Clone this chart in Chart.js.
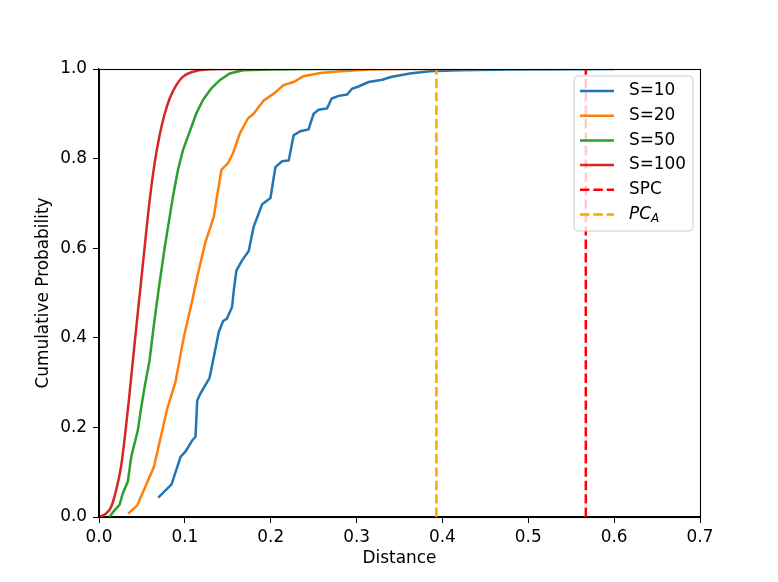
<!DOCTYPE html>
<html>
<head>
<meta charset="utf-8">
<script src="https://cdn.jsdelivr.net/npm/chart.js@4/dist/chart.umd.min.js"></script>
<style>
  html, body { margin: 0; padding: 0; background: #fff; }
  #wrap { width: 778px; height: 582px; }
</style>
</head>
<body>
<div id="wrap"><canvas id="cdf" width="778" height="582"></canvas></div>
<script>
const s10X = [0.069, 0.0845, 0.095, 0.101, 0.1086, 0.1124, 0.1144, 0.118, 0.1237, 0.1287, 0.1337, 0.1395, 0.1446, 0.149, 0.155, 0.157, 0.16, 0.1667, 0.1744, 0.18, 0.19, 0.1997, 0.2055, 0.2133, 0.221, 0.2267, 0.2345, 0.244, 0.25, 0.256, 0.2656, 0.271, 0.279, 0.289, 0.2946, 0.3023, 0.314, 0.33, 0.34, 0.362, 0.385, 0.42, 0.48, 0.55, 0.6];
const s10Y = [0.043, 0.073, 0.134, 0.147, 0.171, 0.179, 0.26, 0.275, 0.294, 0.31, 0.357, 0.413, 0.4375, 0.443, 0.469, 0.506, 0.55, 0.573, 0.594, 0.647, 0.698, 0.712, 0.781, 0.794, 0.796, 0.852, 0.861, 0.865, 0.90, 0.909, 0.912, 0.934, 0.94, 0.943, 0.956, 0.961, 0.971, 0.976, 0.982, 0.990, 0.995, 0.997, 0.999, 0.9995, 1.0];

const s20X = [0.034, 0.0446, 0.064, 0.0795, 0.089, 0.0988, 0.1086, 0.1144, 0.124, 0.1337, 0.1368, 0.1426, 0.1503, 0.1561, 0.164, 0.1736, 0.18, 0.192, 0.2035, 0.215, 0.2267, 0.238, 0.258, 0.281, 0.316, 0.36, 0.45];
const s20Y = [0.0076, 0.026, 0.112, 0.242, 0.301, 0.402, 0.483, 0.536, 0.614, 0.67, 0.708, 0.775, 0.79, 0.812, 0.856, 0.89, 0.9, 0.93, 0.945, 0.964, 0.971, 0.984, 0.991, 0.995, 0.9987, 1.0, 1.0];

const s50X = [0.0122, 0.018, 0.0239, 0.0278, 0.0336, 0.0376, 0.0415, 0.0453, 0.0492, 0.0531, 0.0589, 0.064, 0.0694, 0.0764, 0.0823, 0.0861, 0.092, 0.0978, 0.1056, 0.1134, 0.1211, 0.1309, 0.1406, 0.1523, 0.1678, 0.2, 0.25, 0.3];
const s50Y = [0, 0.015, 0.027, 0.053, 0.079, 0.135, 0.165, 0.194, 0.245, 0.29, 0.35, 0.43, 0.507, 0.6, 0.67, 0.715, 0.775, 0.819, 0.86, 0.901, 0.931, 0.957, 0.975, 0.99, 0.997, 0.999, 1.0, 1.0];

const s100X = [0.0006, 0.0084, 0.0142, 0.020, 0.0259, 0.031, 0.0353, 0.0395, 0.0438, 0.048, 0.0525, 0.0589, 0.0648, 0.0706, 0.0764, 0.0823, 0.09, 0.0978, 0.1095, 0.125, 0.15, 0.2];
const s100Y = [0, 0.008, 0.023, 0.06, 0.115, 0.194, 0.27, 0.35, 0.43, 0.507, 0.59, 0.705, 0.79, 0.852, 0.899, 0.934, 0.964, 0.983, 0.994, 0.999, 1.0, 1.0];

// vertical reference distances
const spcX = 0.567;
const pcaX = 0.393;

const seriesLabels = ['S=10', 'S=20', 'S=50', 'S=100', 'SPC', 'PC_A'];
const seriesColors = ['#1f77b4', '#ff7f0e', '#2ca02c', '#d62728', '#ff0000', '#ffa500'];
const xTicks = [0, 0.1, 0.2, 0.3, 0.4, 0.5, 0.6, 0.7];
const yTicks = [0, 0.2, 0.4, 0.6, 0.8, 1.0];

function pts(xs, ys) {
    return xs.map(function (x, i) { return { x: x, y: ys[i] }; });
}

const FONT = 'DejaVu Sans';
const FS = 16.9;
const LW = 2.5;
const DASH = [9.4, 4];

const curves = [pts(s10X, s10Y), pts(s20X, s20Y), pts(s50X, s50Y), pts(s100X, s100Y),
                pts([spcX, spcX], [0, 1]), pts([pcaX, pcaX], [0, 1])];

const datasets = curves.map(function (d, i) {
    return {
        label: seriesLabels[i],
        data: d,
        showLine: true,
        borderColor: seriesColors[i],
        backgroundColor: seriesColors[i],
        borderWidth: LW,
        borderDash: i >= 4 ? DASH : [],
        pointRadius: 0,
        fill: false,
        tension: 0,
        cubicInterpolationMode: i === 3 ? 'monotone' : 'default',
        order: 10 - i,
    };
});

// top/right spines
const framePlugin = {
    id: 'frame',
    afterDatasetsDraw(chart) {
        const a = chart.chartArea, ctx = chart.ctx;
        ctx.save();
        ctx.strokeStyle = '#000';
        ctx.lineWidth = 1.1;
        ctx.strokeRect(a.left + 0.5, a.top + 0.5, a.right - a.left, a.bottom - a.top);
        ctx.restore();
    }
};

// matplotlib-style boxed legend inside the axes
const boxLegend = {
    id: 'boxLegend',
    afterDraw(chart) {
        const a = chart.chartArea, ctx = chart.ctx;
        const w = 119, h = 155;
        const x0 = a.right - 7 - w, y0 = a.top + 7;
        const r = 4;
        ctx.save();
        ctx.beginPath();
        ctx.moveTo(x0 + r, y0);
        ctx.lineTo(x0 + w - r, y0);
        ctx.arcTo(x0 + w, y0, x0 + w, y0 + r, r);
        ctx.lineTo(x0 + w, y0 + h - r);
        ctx.arcTo(x0 + w, y0 + h, x0 + w - r, y0 + h, r);
        ctx.lineTo(x0 + r, y0 + h);
        ctx.arcTo(x0, y0 + h, x0, y0 + h - r, r);
        ctx.lineTo(x0, y0 + r);
        ctx.arcTo(x0, y0, x0 + r, y0, r);
        ctx.closePath();
        ctx.fillStyle = 'rgba(255,255,255,0.8)';
        ctx.fill();
        ctx.strokeStyle = '#cccccc';
        ctx.lineWidth = 1;
        ctx.stroke();

        ctx.textBaseline = 'middle';
        ctx.textAlign = 'left';
        seriesLabels.forEach(function (lab, i) {
            const y = y0 + 15 + i * 24.7;
            ctx.beginPath();
            ctx.setLineDash(i >= 4 ? DASH : []);
            ctx.strokeStyle = seriesColors[i];
            ctx.lineWidth = LW;
            ctx.moveTo(x0 + 6, y);
            ctx.lineTo(x0 + 40, y);
            ctx.stroke();
            ctx.setLineDash([]);
            ctx.fillStyle = '#000';
            if (lab === 'PC_A') {
                ctx.font = 'italic ' + FS + 'px "' + FONT + '"';
                ctx.fillText('PC', x0 + 55, y);
                const pw = ctx.measureText('PC').width;
                ctx.font = 'italic 12px "' + FONT + '"';
                ctx.fillText('A', x0 + 55 + pw, y + 4);
            } else {
                ctx.font = FS + 'px "' + FONT + '"';
                ctx.fillText(lab, x0 + 55, y);
            }
        });
        ctx.restore();
    }
};

const tickFont = { family: FONT, size: FS };

new Chart(document.getElementById('cdf').getContext('2d'), {
    type: 'scatter',
    data: { datasets: datasets },
    plugins: [framePlugin, boxLegend],
    options: {
        responsive: false,
        animation: false,
        events: [],
        layout: { padding: { top: 69, right: 78, left: 0, bottom: 0 } },
        plugins: {
            legend: { display: false },
            tooltip: { enabled: false },
        },
        scales: {
            x: {
                type: 'linear',
                min: 0,
                max: 0.7,
                afterFit: function (s) { s.height = 65; },
                afterBuildTicks: function (s) { s.ticks = xTicks.map(function (v) { return { value: v }; }); },
                ticks: {
                    color: '#000',
                    font: tickFont,
                    padding: 4,
                    maxRotation: 0,
                    callback: function (v) { return Number(v).toFixed(1); },
                },
                grid: { drawOnChartArea: false, drawTicks: true, tickLength: 6, color: '#000' },
                border: { display: true, color: '#000', width: 1.1 },
                title: { display: true, text: 'Distance', color: '#000', font: tickFont, padding: { top: 0, bottom: 13 } },
            },
            y: {
                type: 'linear',
                min: 0,
                max: 1,
                afterFit: function (s) { s.width = 99; },
                afterBuildTicks: function (s) { s.ticks = yTicks.map(function (v) { return { value: v }; }); },
                ticks: {
                    color: '#000',
                    font: tickFont,
                    padding: 6,
                    callback: function (v) { return Number(v).toFixed(1); },
                },
                grid: { drawOnChartArea: false, drawTicks: true, tickLength: 6, color: '#000' },
                border: { display: true, color: '#000', width: 1.1 },
                title: { display: true, text: 'Cumulative Probability', color: '#000', font: tickFont, padding: { top: 33, bottom: 0 } },
            },
        },
    },
});
</script>
</body>
</html>
